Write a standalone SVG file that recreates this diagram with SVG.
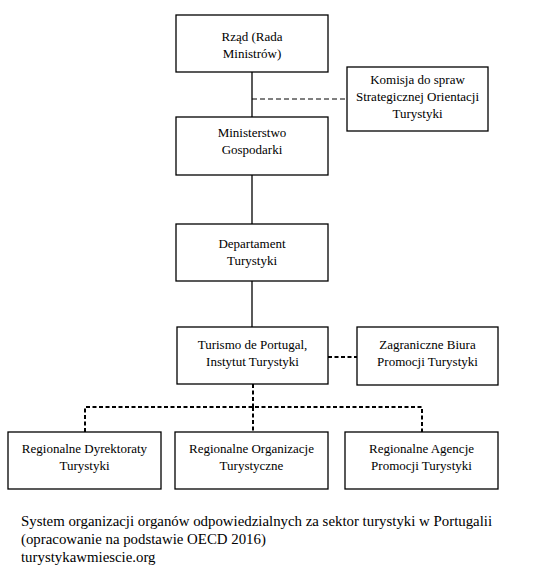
<svg xmlns="http://www.w3.org/2000/svg" width="560" height="575" viewBox="0 0 560 575">
<style>
.box{fill:#fff;stroke:#000;stroke-width:1.3}
.t{font-family:"Liberation Serif","Times New Roman",serif;font-size:13px;fill:#000;text-anchor:middle}
.cap{font-family:"Liberation Serif","Times New Roman",serif;font-size:14.85px;fill:#000}
.solid{stroke:#000;stroke-width:1.3;fill:none}
.thin{stroke:#000;stroke-width:1;stroke-dasharray:5,3;fill:none}
.thick{stroke:#000;stroke-width:2;stroke-dasharray:4,2.5;fill:none}
</style>
<rect width="560" height="575" fill="#fff"/>
<g id="connectors">
<line class="solid" x1="252" y1="72" x2="252" y2="117"/>
<line class="thin" x1="252" y1="99" x2="347" y2="99"/>
<line class="solid" x1="252" y1="175" x2="252" y2="224"/>
<line class="solid" x1="252" y1="281" x2="252" y2="327"/>
<line class="thick" x1="328" y1="357" x2="357" y2="357"/>
<path class="thick" d="M253 384 V407 M85 432 V407 H422 V432 M253 407 V432"/>
</g>
<g id="rzad"><rect class="box" x="176" y="15" width="152" height="57"/><text class="t" x="252" y="41">Rząd (Rada</text><text class="t" x="252" y="58">Ministrów)</text></g>
<g id="komisja"><rect class="box" x="347" y="67" width="141" height="64"/><text class="t" x="417.5" y="84">Komisja do spraw</text><text class="t" x="417.5" y="101">Strategicznej Orientacji</text><text class="t" x="417.5" y="118">Turystyki</text></g>
<g id="ministerstwo"><rect class="box" x="176" y="117" width="152" height="58"/><text class="t" x="252" y="137">Ministerstwo</text><text class="t" x="252" y="154">Gospodarki</text></g>
<g id="departament"><rect class="box" x="176" y="224" width="152" height="57"/><text class="t" x="252" y="248">Departament</text><text class="t" x="252" y="265">Turystyki</text></g>
<g id="turismo"><rect class="box" x="177" y="327" width="151" height="57"/><text class="t" x="252.5" y="349">Turismo de Portugal,</text><text class="t" x="252.5" y="366">Instytut Turystyki</text></g>
<g id="zagraniczne"><rect class="box" x="357" y="327" width="141" height="58"/><text class="t" x="427.5" y="349">Zagraniczne Biura</text><text class="t" x="427.5" y="366">Promocji Turystyki</text></g>
<g id="dyrektoraty"><rect class="box" x="8" y="432" width="153" height="57"/><text class="t" x="84.5" y="453">Regionalne Dyrektoraty</text><text class="t" x="84.5" y="470">Turystyki</text></g>
<g id="organizacje"><rect class="box" x="175" y="432" width="153" height="57"/><text class="t" x="251.5" y="453">Regionalne Organizacje</text><text class="t" x="251.5" y="470">Turystyczne</text></g>
<g id="agencje"><rect class="box" x="345" y="432" width="153" height="57"/><text class="t" x="421.5" y="453">Regionalne Agencje</text><text class="t" x="421.5" y="470">Promocji Turystyki</text></g>
<g id="caption">
<text class="cap" x="21" y="526">System organizacji organów odpowiedzialnych za sektor turystyki w Portugalii</text>
<text class="cap" x="21" y="544">(opracowanie na podstawie OECD 2016)</text>
<text class="cap" x="21" y="562">turystykawmiescie.org</text>
</g>
</svg>
